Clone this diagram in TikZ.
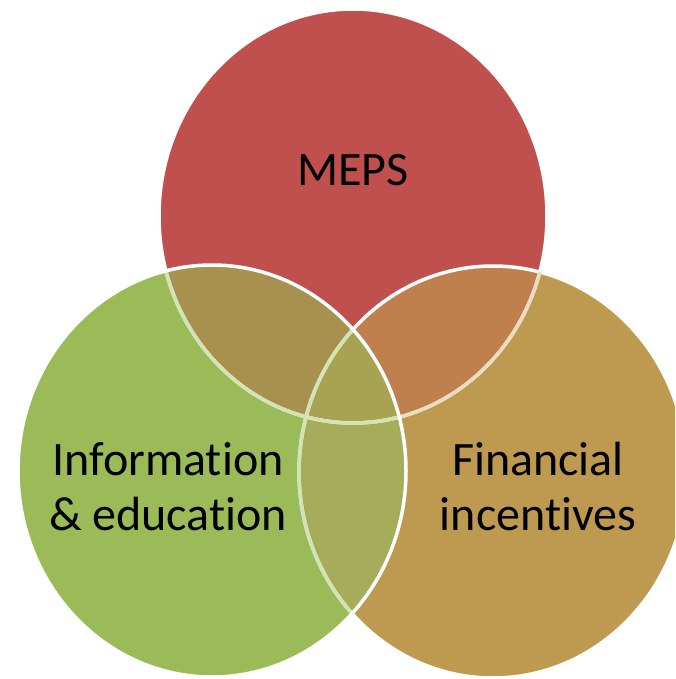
\documentclass[tikz,border=0pt]{standalone}
\usepackage{fontspec}
\setmainfont{Carlito}[Ligatures={NoCommon}]
\usepackage{tikz}

\definecolor{mepsred}{HTML}{C0504D}
\definecolor{infogreen}{HTML}{9BBB59}
\definecolor{fintan}{HTML}{BE9A50}
\definecolor{redgreen}{HTML}{A8914F}
\definecolor{redtan}{HTML}{C0804E}
\definecolor{greentan}{HTML}{A6AD5A}
\definecolor{allthree}{HTML}{A8A352}
\definecolor{palegreen}{HTML}{D3E3B5}
\definecolor{paletan}{HTML}{E9DCC0}

\newcommand{\mepsring}{(353,216) ellipse (194 and 207)}
\newcommand{\inforing}{(212,471) ellipse (194 and 206)}
\newcommand{\finring}{(493,472) ellipse (194 and 206)}

\begin{document}
\begin{tikzpicture}[x=1pt,y=-1pt]
    \tikzstyle{every node}+=[inner sep=0pt, align=center, font=\fontsize{48}{55}\selectfont]
    \tikzstyle{ring}=[white, line width=3.5pt]
    \clip (0,0) rectangle (675,679);
    % plain discs
    \fill [mepsred] \mepsring;
    \fill [fintan] \finring;
    \fill [infogreen] \inforing;
    % overlaps
    \begin{scope}
        \clip \mepsring;
        \fill [redtan] \finring;
        \fill [redgreen] \inforing;
    \end{scope}
    \begin{scope}
        \clip \inforing;
        \fill [greentan] \finring;
    \end{scope}
    \begin{scope}
        \clip \mepsring;
        \clip \inforing;
        \fill [allthree] \finring;
    \end{scope}
    % rims
    \draw [ring] \mepsring;
    \draw [ring] \finring;
    \begin{scope}
        \clip \finring;
        \draw [ring, paletan] \mepsring;
    \end{scope}
    \begin{scope}
        \clip \inforing;
        \draw [ring, palegreen] \mepsring;
        \draw [ring, palegreen] \finring;
    \end{scope}
    \draw [ring] \inforing;
    % labels
    \node (meps) at (353,170) {MEPS};
    \node (info) at (168,487) {Information\\\& education};
    \node (fin) at (538,487) {Financial\\incentives};
    % \node (core) at (352,400) {};
\end{tikzpicture}
\end{document}
